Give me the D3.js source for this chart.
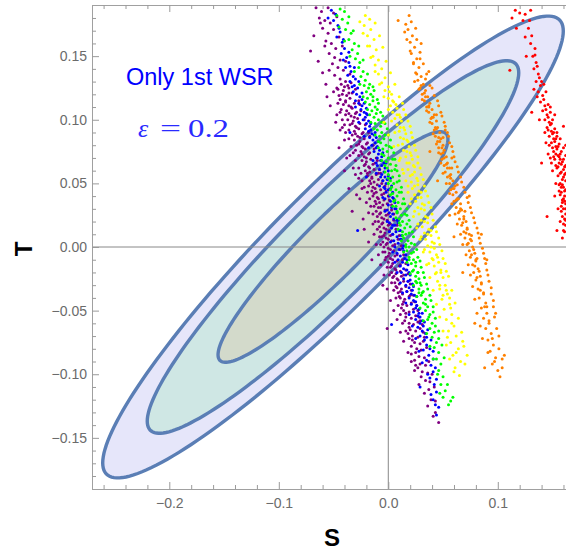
<!DOCTYPE html>
<html>
<head>
<meta charset="utf-8">
<script src="https://cdn.jsdelivr.net/npm/d3@7"></script>
<style>
  body { margin: 0; background: #fff; }
  svg { display: block; }
  .tick text { font-family: "Liberation Sans", Arial, sans-serif; font-size: 14px; fill: #6b6b6b; }
  .tick line { stroke: #9a9a9a; }
  .domain { display: none; }
</style>
</head>
<body>
<svg id="chart" width="566" height="553"></svg>
<script>
// ---- data ----
var xTicks = [-0.2, -0.1, 0.0, 0.1];
var yTicks = [-0.15, -0.10, -0.05, 0.00, 0.05, 0.10, 0.15];

// confidence ellipses: centre, sigmas, correlation, 68/95/99 % radii
var ellCenter = [-0.0505, 0.0];
var ellSigma = [0.0693, 0.0598];
var ellRho = 0.935;
var ellLevels = [3.035, 2.448, 1.515];
var ellFills = ["#e6e6fa", "#cfe7e4", "#d3dacb"];

var purplePts = [
[-.066,.188],[-.061,.185],[-.055,.188],[-.05,.184],[-.063,.18],[-.058,.178],[-.053,.176],[-.047,.181],[-.06,.172],[-.055,.168],[-.05,.171],[-.045,.165],[-.057,.162],[-.052,.16],[-.048,.156],[-.071,.154],[-.054,.152],[-.049,.149],[-.044,.147],[-.051,.144],[-.046,.141],[-.041,.139],[-.06,.137],[-.049,.135],[-.044,.132],[-.039,.13],
[-.043,.128],[-.037,.127],[-.034,.129],[-.046,.124],[-.041,.123],[-.036,.125],[-.042,.12],[-.038,.119],[-.033,.121],[-.056,.118],
[-.044,.116],[-.039,.115],[-.035,.117],[-.041,.112],[-.036,.111],[-.031,.113],[-.043,.108],[-.038,.107],[-.033,.109],[-.029,.106],
[-.039,.104],[-.034,.103],[-.03,.105],[-.037,.1],[-.032,.099],[-.028,.101],[-.048,.098],[-.035,.096],[-.03,.095],[-.026,.097],[-.042,.094],
[-.036,.092],[-.031,.091],[-.027,.093],[-.023,.09],[-.033,.088],[-.028,.087],[-.024,.089],[-.031,.084],[-.026,.083],[-.022,.085],[-.019,.082],
[-.029,.08],[-.024,.079],[-.02,.081],[-.03,.076],[-.025,.075],[-.021,.077],[-.017,.074],[-.027,.072],[-.022,.071],[-.018,.073],[-.038,.07],
[-.024,.068],[-.02,.067],[-.016,.069],[-.012,.066],[-.022,.064],[-.018,.063],[-.014,.065],[-.021,.06],[-.017,.059],[-.013,.061],[-.009,.058],[-.03,.057],
[-.019,.056],[-.015,.055],[-.011,.057],[-.017,.052],[-.013,.051],[-.009,.053],[-.006,.05],[-.018,.048],[-.014,.047],[-.01,.049],[-.036,.046],
[-.015,.044],[-.011,.043],[-.007,.045],[-.004,.042],[-.014,.04],[-.01,.039],[-.006,.041],[-.012,.036],[-.008,.035],[-.004,.037],[-.001,.034],[-.026,.038],
[-.013,.032],[-.009,.031],[-.005,.033],[-.011,.028],[-.007,.027],[-.003,.029],[0,.026],[-.033,.028],[-.01,.024],[-.006,.023],[-.002,.025],
[-.009,.02],[-.005,.019],[-.001,.021],[.002,.018],[-.008,.016],[-.004,.015],[0,.017],[-.022,.014],[-.007,.012],[-.003,.011],[.001,.013],[.004,.01],
[-.006,.008],[-.002,.007],[.002,.009],[-.005,.004],[-.001,.003],[.003,.005],[.006,.002],[-.018,.004],[-.004,0],[0,-.001],[.004,.001],
[-.003,-.004],[.001,-.005],[.005,-.003],[.008,-.006],[-.002,-.008],[.002,-.009],[.006,-.007],[0,-.012],[.004,-.013],[.008,-.011],[.011,-.014],[-.015,-.01],
[.002,-.016],[.006,-.017],[.01,-.015],[.003,-.02],[.007,-.021],[.011,-.019],[.014,-.022],[.004,-.024],[.008,-.025],[.012,-.023],
[.006,-.028],[.01,-.029],[.014,-.027],[-.005,-.03],[.008,-.032],[.012,-.033],[.016,-.031],[.009,-.036],[.013,-.037],[.017,-.035],[.02,-.038],
[.011,-.04],[.015,-.041],[.019,-.039],[.013,-.045],[.017,-.046],[.021,-.044],[.014,-.05],[.019,-.051],[.023,-.049],[.016,-.055],[.021,-.056],[.025,-.054],
[.019,-.06],[.023,-.061],[.027,-.059],[-.001,-.064],[.02,-.065],[.025,-.066],[.029,-.064],[.022,-.07],[.027,-.071],[.024,-.075],[.029,-.076],[.032,-.074],
[.026,-.08],[.03,-.081],[.028,-.086],[.033,-.087],[.029,-.092],[.034,-.093],[.031,-.098],[.036,-.099],[.034,-.105],[.038,-.106],[.037,-.112],
[.039,-.12],[.043,-.121],[.043,-.13],[.046,-.138],
[-.062,.176],[-.068,.166],[-.058,.158],[-.064,.146],[-.054,.139],[-.057,.128],[-.05,.122],[-.053,.111],[-.047,.104],[-.044,.092],[-.04,.084],[-.045,.078],[-.035,.072],[-.032,.062],[-.04,.06],
[-.027,.054],[-.024,.046],[-.029,.041],[-.02,.035],[-.018,.027],[-.023,.022],[-.014,.018],[-.013,.01],[-.011,.002],[-.009,-.006],[-.007,-.014],[-.004,-.022],[-.001,-.033],[.002,-.042],
[.005,-.05],[.008,-.057],[.011,-.067],[.014,-.074],[.018,-.083],[.021,-.09],[.024,-.097],[.028,-.108],
[-.042,.158],[-.039,.146],[-.035,.136],[-.03,.124],[-.026,.112],[-.022,.1],[-.018,.09],[-.014,.08],[-.011,.07],[-.008,.061],[-.005,.052],[-.002,.044],[.001,.037],[.003,.029],[.005,.021],
[.007,.014],[.009,.006],[.011,-.002],[.013,-.01],[.016,-.018],[.018,-.027],[.021,-.034],[.024,-.043],[.027,-.05],[.029,-.058],[.032,-.067],[.035,-.079],[.037,-.09],[.04,-.1],[.042,-.11],
[-.04,.126],[-.036,.121],[-.039,.114],[-.034,.11],[-.036,.105],[-.031,.102],[-.033,.097],[-.029,.094],[-.03,.089],[-.026,.086],[-.027,.081],[-.023,.078],[-.024,.073],[-.02,.07],[-.021,.065],
[-.017,.062],[-.019,.058],[-.015,.054],[-.016,.05],[-.012,.046],[-.013,.042],[-.009,.038],[-.011,.034],[-.007,.031],[-.008,.026],[-.004,.022],[-.006,.018],[-.002,.014],[-.004,.009],[0,.006],
[-.002,.002],[.002,-.002],[0,-.007],[.004,-.01],[.003,-.015],[.007,-.018],[.005,-.023],[.009,-.026],[.007,-.031],[.011,-.035],[.01,-.039],[.014,-.043],[.012,-.048],[.016,-.052],[.015,-.058],
[.019,-.063],[.018,-.068],[.022,-.073],[.021,-.078],[.025,-.083],[.024,-.089],[.027,-.095],[.03,-.102],[.033,-.115],[.036,-.125],[.041,-.133],
[-.047,.125],[-.045,.119],[-.046,.113],[-.044,.106],[-.042,.1],[-.04,.096],[-.039,.09],[-.036,.085],[-.034,.079],[-.032,.074],[-.03,.068],[-.027,.062],[-.025,.058],[-.024,.052],[-.022,.047],
[-.019,.043],[-.017,.038],[-.016,.032],[-.014,.026],[-.012,.02],[-.01,.014],[-.008,.008],[-.007,.002],[-.005,-.004],[-.003,-.01],[-.001,-.016],[.001,-.022],[.003,-.028],[.005,-.034],
[.007,-.04],[.009,-.046],[.011,-.053],[.013,-.06],[.016,-.066],[.019,-.072],[.021,-.084],[.025,-.093],
[-.027,.115],[-.025,.107],[-.021,.096],[-.017,.087],[-.013,.077],[-.01,.068],[-.007,.058],[-.003,.048],[0,.04],[.003,.033],[.005,.026],[.008,.017],[.01,.009],[.012,.001],[.014,-.006],
[.016,-.013],[.018,-.021],[.02,-.029],[.023,-.038],[.026,-.046],[.028,-.055],[.031,-.061],[.033,-.071]
];

var bluePts = [
[-.052,.186],[-.048,.183],[-.05,.178],[-.046,.174],[-.044,.169],[-.047,.165],[-.042,.161],[-.04,.156],[-.043,.152],[-.038,.149],[-.036,.145],[-.039,.141],[-.034,.138],[-.032,.134],[-.035,.13],
[-.031,.127],[-.028,.125],[-.032,.122],[-.029,.12],[-.026,.118],[-.03,.115],[-.027,.113],[-.024,.111],[-.025,.108],[-.022,.106],[-.026,.104],[-.021,.102],[-.023,.1],[-.02,.097],[-.017,.095],
[-.021,.093],[-.018,.091],[-.015,.089],[-.017,.086],[-.014,.084],[-.012,.082],[-.015,.08],[-.011,.078],[-.013,.075],[-.009,.073],[-.01,.07],[-.007,.068],[-.011,.066],[-.006,.064],[-.008,.061],
[-.004,.059],[-.006,.057],[-.003,.055],[-.005,.052],[-.002,.05],[-.004,.047],[0,.045],[-.002,.043],[.001,.04],[-.003,.038],[.002,.036],[0,.033],[.003,.031],[-.001,.029],[.004,.026],
[.002,.024],[.005,.022],[.001,.019],[.006,.017],[.003,.015],[.007,.012],[.004,.01],[.008,.008],[.005,.005],[.009,.003],[.006,0],[.01,-.002],[.008,-.005],[.011,-.007],[.009,-.01],
[.013,-.012],[.011,-.015],[.014,-.017],[.012,-.02],[.016,-.022],[.014,-.025],[.018,-.027],[.016,-.03],[.019,-.032],[.017,-.035],[.021,-.037],[.019,-.04],[.023,-.042],[.021,-.045],
[.025,-.048],[.023,-.051],[.027,-.054],[.025,-.057],[.029,-.06],[.027,-.063],[.031,-.066],[.029,-.07],[.033,-.073],[.035,-.077],[.032,-.081],[.037,-.085],[.035,-.089],[.039,-.093],
[.041,-.098],[.038,-.103],[.042,-.108],[.044,-.114],[.041,-.12],[.046,-.126],[.044,-.132],
[-.028,.013],[.003,-.061],[-.02,.055],[-.035,.09],[.029,-.11],
[-.024,.121],[-.02,.109],[-.018,.099],[-.013,.088],[-.01,.079],[-.006,.071],[-.003,.062],[-.001,.053],[.002,.046],[.004,.039],[.006,.03],[.008,.021],
[.01,.013],[.011,.006],[.013,-.001],[.015,-.009],[.017,-.018],[.02,-.026],[.022,-.034],[.025,-.043],[.028,-.052],[.031,-.058],[.034,-.068],
[-.055,.18],[-.045,.172],[-.041,.163],[-.036,.153],[-.041,.147],[-.031,.141],[-.037,.135],[-.027,.13],[-.033,.126],[-.024,.116],[-.03,.11],[-.02,.105],[-.027,.098],[-.016,.092],[-.022,.087],
[-.011,.086],[-.018,.078],[-.008,.076],[-.014,.068],[-.004,.066],[-.011,.058],[0,.056],[-.008,.048],[.003,.048],[-.005,.039],[.005,.038],[-.003,.028],[.007,.03],[-.001,.02],[.009,.021],
[.001,.012],[.011,.013],[.002,.004],[.012,.006],[.004,-.004],[.014,-.003],[.006,-.012],[.017,-.01],[.008,-.02],[.019,-.02],[.011,-.028],[.022,-.029],[.013,-.036],[.024,-.038],[.016,-.044],
[.026,-.046],[.019,-.053],[.029,-.055],[.022,-.062],[.032,-.062],[.025,-.072],[.035,-.071],[.028,-.082],[.038,-.08],[.031,-.091],[.041,-.088],[.036,-.1],[.044,-.104],[.039,-.116],[.043,-.124],
[-.035,.142],[-.03,.132],[-.022,.113],[-.019,.104],[-.016,.097],[-.012,.09],[-.009,.083],[-.005,.074],[-.002,.066],[0,.06],[.002,.054],[.004,.043],[.006,.035],[.008,.027],[.009,.019],
[.012,.009],[.014,.001],[.016,-.006],[.018,-.014],[.02,-.022],[.023,-.031],[.026,-.039],[.028,-.049],[.031,-.052],[.033,-.059],[.036,-.065],[.039,-.073],[.041,-.082],[.043,-.095],
[-.007,.055],[-.01,.064],[-.003,.046],[.001,.027],[.004,.017]
];

var greenPts = [
[-.044,.187],[-.04,.185],[-.042,.179],[-.037,.176],[-.039,.171],[-.034,.168],[-.036,.163],[-.031,.16],[-.033,.155],[-.028,.152],[-.03,.148],[-.026,.145],[-.027,.141],[-.023,.138],[-.025,.134],[-.021,.131],[-.022,.127],[-.018,.125],
[-.02,.122],[-.016,.12],[-.019,.117],[-.014,.115],[-.017,.112],[-.012,.11],[-.015,.107],[-.011,.105],[-.013,.102],[-.009,.1],[-.012,.097],[-.007,.095],[-.01,.092],[-.006,.09],[-.008,.087],
[-.004,.085],[-.007,.082],[-.002,.08],[-.005,.077],[-.001,.075],[-.004,.072],[0,.07],[-.002,.067],[.002,.065],[-.001,.062],[.003,.06],[0,.057],[.004,.055],[.002,.052],[.005,.05],[.003,.047],
[.007,.045],[.004,.042],[.008,.04],[.006,.037],[.009,.035],[.007,.032],[.011,.03],[.008,.027],[.012,.025],[.01,.022],[.013,.02],[.011,.017],[.015,.015],[.013,.012],[.016,.01],[.014,.007],
[.018,.005],[.016,.002],[.019,0],[.017,-.003],[.021,-.005],[.019,-.008],[.023,-.01],[.021,-.013],[.025,-.015],[.023,-.018],[.027,-.02],[.025,-.023],[.028,-.025],[.026,-.028],[.03,-.03],
[.028,-.033],[.032,-.035],[.03,-.038],[.034,-.041],[.032,-.044],[.036,-.047],[.034,-.05],[.038,-.053],[.036,-.057],[.04,-.06],[.038,-.064],[.042,-.067],[.04,-.071],[.044,-.075],[.042,-.079],
[.046,-.083],[.044,-.088],[.048,-.092],[.046,-.097],[.05,-.102],[.048,-.108],[.052,-.113],[.05,-.118],[.055,-.124],[.059,-.118],
[-.014,.118],[-.01,.108],[-.006,.098],[-.003,.088],[.001,.079],[.004,.069],[.006,.061],[.008,.051],[.01,.043],[.013,.034],[.015,.026],[.017,.018],[.019,.011],[.021,.003],[.023,-.004],
[.025,-.012],[.027,-.02],[.029,-.028],[.031,-.036],[.034,-.045],[.037,-.055],
[-.047,.182],[-.036,.181],[-.045,.173],[-.032,.17],[-.04,.162],[-.027,.158],[-.035,.15],[-.023,.147],[-.031,.138],[-.019,.136],[-.026,.128],[-.014,.126],[-.023,.118],[-.01,.116],[-.019,.108],
[-.007,.106],[-.016,.098],[-.003,.097],[-.012,.088],[0,.088],[-.009,.078],[.003,.078],[-.006,.068],[.006,.069],[-.003,.059],[.008,.06],[0,.05],[.01,.052],[.002,.041],[.012,.043],
[.004,.032],[.015,.034],[.007,.023],[.017,.025],[.009,.014],[.02,.016],[.012,.005],[.023,.008],[.014,-.004],[.026,-.002],[.017,-.012],[.029,-.011],[.02,-.021],[.032,-.02],[.023,-.03],
[.035,-.029],[.026,-.039],[.038,-.038],[.029,-.048],[.041,-.047],[.032,-.058],[.043,-.056],[.035,-.068],[.046,-.066],[.038,-.078],[.049,-.077],[.041,-.088],[.051,-.087],[.045,-.1],[.054,-.108],[.047,-.115],[.057,-.121],
[-.017,.128],[-.013,.123],[-.009,.113],[-.005,.103],[-.001,.093],[.002,.084],[.005,.074],[.007,.064],[.01,.056],[.012,.047],[.014,.038],[.017,.03],[.019,.021],[.022,.012],[.024,.002],
[.027,-.008],[.03,-.016],[.033,-.024],[.036,-.033],[.039,-.042],[.041,-.051],[.043,-.062],[.046,-.072],[-.021,.114],[-.017,.104],[-.013,.093],[-.009,.083],[-.006,.073],[-.003,.064],[0,.054],
[.002,.045],[.005,.036],[.008,.028],[.01,.019],[.013,.009],[.016,0],[.019,-.01],[.022,-.019],[.025,-.027],[.028,-.036]
];

var yellowPts = [
[-.021,.182],[-.017,.179],[-.022,.174],[-.016,.171],[-.019,.166],[-.013,.163],[-.017,.158],[-.011,.155],[-.014,.15],[-.009,.147],[-.012,.143],[-.006,.14],[-.009,.136],[-.003,.133],[-.006,.129],
[0,.126],[-.003,.123],[.003,.12],[0,.117],[.005,.114],[.002,.111],[.008,.109],[.004,.106],[.01,.104],[.006,.101],[.012,.099],[.008,.096],[.014,.094],[.01,.091],[.016,.089],[.011,.086],
[.017,.084],[.013,.081],[.019,.079],[.014,.076],[.02,.074],[.016,.071],[.022,.069],[.017,.066],[.023,.064],[.018,.061],[.024,.059],[.02,.056],[.026,.054],[.021,.051],[.027,.049],[.022,.046],
[.028,.044],[.024,.041],[.03,.039],[.025,.036],[.031,.034],[.027,.031],[.033,.029],[.028,.026],[.034,.024],[.03,.021],[.036,.019],[.031,.016],[.037,.014],[.033,.011],[.039,.009],[.034,.006],
[.04,.004],[.036,.001],[.042,-.001],[.038,-.004],[.044,-.006],[.04,-.009],[.046,-.012],[.042,-.015],[.048,-.018],[.043,-.021],[.05,-.024],[.045,-.027],[.052,-.03],[.047,-.033],[.054,-.037],
[.049,-.041],[.056,-.045],[.051,-.049],[.058,-.053],[.053,-.057],[.06,-.062],[.055,-.066],[.062,-.07],[.057,-.075],[.064,-.08],[.059,-.085],[.066,-.09],[.061,-.095],[.065,-.101],
[.001,.122],[.007,.112],[.011,.102],[.015,.092],[.018,.083],[.021,.072],[.024,.063],[.027,.052],[.03,.043],[.033,.033],[.036,.023],[.039,.013],[.042,.003],[.045,-.008],[.048,-.02],[.053,-.034],[.057,-.048],
[-.004,.098],[0,.088],[.005,.079],[.01,.068],[.014,.058],[.018,.048],[.021,.038],[.024,.028],[.027,.018],[.03,.008],[.033,-.002],[.037,-.013],
[-.026,.177],[-.012,.176],[-.023,.168],[-.008,.166],[-.019,.158],[-.005,.157],[-.016,.149],[-.002,.146],[-.012,.138],[.002,.137],[-.008,.128],[.006,.128],[-.004,.118],[.01,.118],[0,.108],
[.014,.108],[.003,.099],[.018,.099],[.006,.09],[.021,.09],[.009,.08],[.024,.08],[.011,.07],[.027,.071],[.013,.061],[.029,.062],[.016,.052],[.032,.053],[.018,.043],[.034,.044],
[.02,.034],[.037,.035],[.023,.024],[.04,.026],[.026,.015],[.043,.016],[.029,.006],[.046,.007],[.032,-.004],[.049,-.003],[.035,-.014],[.052,-.013],[.038,-.024],[.055,-.023],[.041,-.034],
[.058,-.034],[.044,-.045],[.061,-.044],[.047,-.055],[.064,-.056],[.05,-.066],[.067,-.067],[.053,-.077],[.069,-.078],[.056,-.088],[.07,-.092],[.06,-.098],
[.004,.115],[.013,.113],[.008,.104],[.016,.104],[.011,.094],[.02,.095],[.014,.085],[.022,.086],[.017,.075],[.025,.076],[.019,.066],[.027,.066],[.022,.057],[.03,.057],[.024,.048],
[.033,.048],[.027,.039],[.036,.04],[.03,.03],[.039,.031],[.033,.02],[.041,.021],[.036,.01],[.044,.012],[.039,0],[.047,.002],[.041,-.01],[.05,-.009],[.044,-.02],[.053,-.019],
[.047,-.03],[.056,-.04],[.05,-.038],[.058,-.06],[.054,-.071],[.062,-.083],[.068,-.074],[.072,-.085]
];

var orangePts = [
[.019,.182],[.021,.177],[.018,.171],[.022,.166],[.02,.161],[.024,.157],[.021,.152],[.026,.148],[.023,.144],[.028,.141],[.025,.137],[.03,.134],[.027,.131],[.032,.128],[.029,.125],
[.034,.123],[.031,.12],[.036,.118],[.033,.115],[.038,.113],[.035,.11],[.04,.108],[.037,.106],[.042,.104],[.039,.101],[.044,.099],[.04,.097],[.045,.094],[.042,.092],[.047,.09],[.043,.087],
[.048,.085],[.045,.083],[.05,.08],[.046,.078],[.051,.076],[.048,.073],[.053,.071],[.049,.069],[.054,.066],[.051,.064],[.056,.062],[.052,.059],[.057,.057],[.054,.055],[.059,.052],[.056,.05],
[.061,.048],[.057,.045],[.062,.043],[.059,.041],[.064,.038],[.06,.036],[.066,.034],[.062,.031],[.067,.029],[.064,.027],[.069,.024],[.065,.022],[.071,.02],[.067,.017],[.072,.015],[.069,.012],
[.074,.01],[.07,.007],[.076,.005],[.072,.002],[.077,0],[.074,-.003],[.079,-.005],[.075,-.008],[.08,-.011],[.077,-.014],[.082,-.017],[.078,-.02],[.084,-.023],[.08,-.026],[.085,-.029],
[.082,-.033],[.087,-.036],[.083,-.04],[.089,-.044],[.085,-.048],[.09,-.052],[.087,-.056],[.092,-.06],[.089,-.064],[.094,-.068],[.091,-.073],[.096,-.077],[.093,-.082],[.098,-.087],[.095,-.092],[.1,-.097],[.102,-.102],
[.033,.121],[.037,.111],[.041,.102],[.044,.093],[.047,.083],[.05,.074],[.053,.065],[.056,.056],[.059,.046],[.062,.037],[.065,.028],[.068,.019],[.071,.011],[.073,.003],[.076,-.006],[.079,-.015],[.081,-.024],[.084,-.034],[.088,-.047],
[.009,.178],[.03,.16],[.024,.13],[.052,.092],[.038,.075],[.058,.07],[.045,.052],[.074,.04],[.056,.025],[.085,.01],[.06,.008],[.09,-.01],[.068,-.02],[.097,-.055],[.079,-.06],[.106,-.085],[.088,-.095],
[.016,.175],[.025,.172],[.017,.163],[.026,.163],[.02,.154],[.029,.153],[.023,.145],[.032,.144],[.026,.136],[.035,.136],[.03,.127],[.038,.127],[.034,.118],[.042,.119],[.037,.11],
[.046,.111],[.04,.102],[.049,.103],[.043,.094],[.052,.095],[.046,.086],[.055,.087],[.049,.078],[.058,.079],[.051,.07],[.06,.071],[.054,.062],[.063,.063],[.057,.054],[.066,.055],
[.06,.046],[.069,.047],[.063,.038],[.072,.039],[.066,.03],[.075,.031],[.069,.022],[.078,.023],[.072,.014],[.081,.015],[.075,.006],[.083,.007],[.078,-.002],[.086,-.001],[.08,-.01],
[.088,-.009],[.083,-.019],[.09,-.018],[.085,-.028],[.092,-.027],[.087,-.037],[.094,-.037],[.09,-.047],[.096,-.047],[.092,-.058],[.099,-.064],[.095,-.072],[.101,-.08],[.097,-.09],[.104,-.095],
[.028,.124],[.04,.125],[.031,.116],[.045,.115],[.035,.107],[.048,.106],[.038,.098],[.051,.098],[.041,.089],[.054,.09],[.044,.081],[.056,.082],[.046,.074],[.059,.075],[.048,.066],
[.061,.067],[.05,.058],[.064,.059],[.053,.05],[.067,.051],[.056,.042],[.07,.043],[.058,.034],[.073,.035],[.061,.026],[.076,.027],[.063,.018],[.079,.019],[.066,.01],[.082,.011],
[.068,.002],[.084,.003],[.071,-.006],[.087,-.005],[.073,-.014],[.089,-.013],[.075,-.022],[.091,-.022],[.077,-.031],[.094,-.032],[.079,-.041],[.096,-.042],[.081,-.052],[.098,-.052],[.084,-.062],
[.101,-.07],[.086,-.072],[.104,-.088],[.091,-.083],[.037,.138],[.029,.148],[.015,.169],[.034,.132],[.063,.049],[.07,.028],[.076,.009],[.05,.086],[.044,.104],[.058,.062],[.081,-.009]
];

var redPts = [
[.116,.186],[.12,.184],[.13,.186],[.113,.18],[.123,.178],[.128,.172],[.131,.166],[.13,.16],[.134,.156],[.132,.15],[.135,.145],[.111,.139],[.133,.14],[.137,.136],[.135,.13],[.139,.127],
[.137,.122],[.141,.119],[.139,.114],[.131,.106],[.143,.111],[.141,.107],[.145,.104],[.143,.1],[.147,.098],[.145,.094],[.149,.091],[.147,.087],[.151,.085],[.149,.082],[.153,.079],[.151,.075],
[.155,.072],[.152,.069],[.156,.066],[.154,.062],[.158,.059],[.155,.056],[.159,.053],[.157,.05],[.16,.047],[.158,.043],[.161,.04],[.159,.037],[.162,.034],[.16,.03],[.162,.026],[.161,.022],
[.162,.017],[.161,.012],[.159,.007],
[.146,.092],[.15,.078],[.153,.064],[.156,.049],[.159,.035],[.148,.07],[.14,.066],[.145,.024],[.154,.013],[.152,.04],[.144,.082],[.138,.1],[.157,.02],[.162,.064],[.162,.08],[.16,.095],
[.142,.116],[.146,.112],[.144,.108],[.148,.106],[.146,.102],[.15,.1],[.148,.096],[.152,.093],[.15,.089],[.154,.087],[.152,.083],[.156,.081],[.154,.077],[.158,.075],[.156,.071],
[.16,.069],[.158,.065],[.161,.063],[.157,.058],[.16,.055],[.162,.052],[.158,.047],[.161,.044],[.157,.041],[.16,.038],[.162,.03],[.158,.028],[.16,.018],[.155,.03],[.153,.05],
[.15,.06],[.147,.08],[.136,.118],[.126,.15],[.125,.165],[.133,.124],[.14,.13],[.117,.172],
[.149,.097],[.151,.09],[.153,.085],[.155,.079],[.157,.073],[.159,.067],[.16,.061],[.161,.057],[.159,.049],[.162,.045],[.161,.036],[.158,.032],[.162,.021],[.16,.013],[.155,.063],
[.157,.069],[.153,.073],[.151,.071],[.154,.09],[.157,.085],[.16,.078],[.162,.072],[.162,.058],[.156,.044],[.159,.024],[.152,.104],[.148,.11],[.144,.122],[.142,.128],[.138,.133],
[.136,.142],[.134,.151],[.129,.178],[.125,.183],[.149,.066],[.146,.073],[.143,.09]
];

var series = [
    { name: "purple", color: "#800080", pts: purplePts },
    { name: "blue",   color: "#0000ff", pts: bluePts },
    { name: "green",  color: "#00ff00", pts: greenPts },
    { name: "yellow", color: "#ffff00", pts: yellowPts },
    { name: "orange", color: "#ff8000", pts: orangePts },
    { name: "red",    color: "#ff0000", pts: redPts }
];

function drawChart() {
    var svg = d3.select("#chart");
    var mLeft = 92, mRight = 566, mTop = 5, mBottom = 489;

    var x = d3.scaleLinear().domain([-0.2706, 0.1623]).range([mLeft, mRight]);
    var y = d3.scaleLinear().domain([-0.1902, 0.1902]).range([mBottom, mTop]);

    svg.append("defs").append("clipPath").attr("id", "plotclip")
        .append("rect")
        .attr("x", mLeft).attr("y", mTop)
        .attr("width", mRight - mLeft).attr("height", mBottom - mTop);

    var plot = svg.append("g").attr("clip-path", "url(#plotclip)");

    // ellipses
    function ellipsePoints(k) {
        var s = Math.sqrt(1 - ellRho * ellRho);
        return d3.range(0, 361, 2).map(function(deg) {
            var t = deg * Math.PI / 180;
            return [
                ellCenter[0] + k * ellSigma[0] * Math.cos(t),
                ellCenter[1] + k * ellSigma[1] * (ellRho * Math.cos(t) + s * Math.sin(t))
            ];
        });
    }

    var ellLine = d3.line()
        .x(function(d) { return x(d[0]); })
        .y(function(d) { return y(d[1]); })
        .curve(d3.curveLinearClosed);

    ellLevels.forEach(function(k, i) {
        plot.append("path")
            .attr("d", ellLine(ellipsePoints(k)))
            .attr("fill", ellFills[i])
            .attr("stroke", "none");
    });
    ellLevels.forEach(function(k) {
        plot.append("path")
            .attr("d", ellLine(ellipsePoints(k)))
            .attr("fill", "none")
            .attr("stroke", "#5a7eb5")
            .attr("stroke-width", 3.4);
    });

    // axes through origin
    plot.append("line")
        .attr("x1", mLeft).attr("x2", mRight)
        .attr("y1", y(0)).attr("y2", y(0))
        .attr("stroke", "#888").attr("stroke-width", 1);
    plot.append("line")
        .attr("x1", x(0)).attr("x2", x(0))
        .attr("y1", mTop).attr("y2", mBottom)
        .attr("stroke", "#888").attr("stroke-width", 1);

    // points
    series.forEach(function(sr) {
        plot.append("g")
            .selectAll("circle")
            .data(sr.pts)
            .enter()
            .append("circle")
            .attr("cx", function(d) { return x(d[0]); })
            .attr("cy", function(d) { return y(d[1]); })
            .attr("r", 1.5)
            .attr("fill", sr.color);
    });

    // frame
    svg.append("rect")
        .attr("x", mLeft + 0.5).attr("y", mTop + 0.5)
        .attr("width", mRight - mLeft + 20).attr("height", mBottom - mTop)
        .attr("fill", "none")
        .attr("stroke", "#a0a0a0")
        .attr("stroke-width", 1);

    // ticks
    var xMinor = d3.range(-0.26, 0.17, 0.02).filter(function(v) {
        return Math.abs(Math.round(v * 10) - v * 10) > 1e-6;
    });
    var yMinor = d3.range(-0.18, 0.19, 0.01).filter(function(v) {
        return Math.abs(Math.round(v * 20) - v * 20) > 1e-6;
    });

    svg.append("g").attr("transform", "translate(0," + mBottom + ")")
        .call(d3.axisBottom(x).tickValues(xTicks).tickSize(-7).tickPadding(9).tickFormat(d3.format(".1f")));
    svg.append("g").attr("transform", "translate(0," + mBottom + ")")
        .call(d3.axisBottom(x).tickValues(xMinor).tickSize(-4).tickFormat(""));
    svg.append("g").attr("transform", "translate(0," + mTop + ")")
        .call(d3.axisTop(x).tickValues(xTicks).tickSize(-7).tickFormat(""));
    svg.append("g").attr("transform", "translate(0," + mTop + ")")
        .call(d3.axisTop(x).tickValues(xMinor).tickSize(-4).tickFormat(""));

    svg.append("g").attr("transform", "translate(" + mLeft + ",0)")
        .call(d3.axisLeft(y).tickValues(yTicks).tickSize(-7).tickPadding(5).tickFormat(d3.format(".2f")));
    svg.append("g").attr("transform", "translate(" + mLeft + ",0)")
        .call(d3.axisLeft(y).tickValues(yMinor).tickSize(-4).tickFormat(""));

    // axis labels
    svg.append("text")
        .attr("x", 332).attr("y", 546)
        .attr("text-anchor", "middle")
        .style("font-family", "'Liberation Sans', Arial, sans-serif")
        .style("font-size", "24px").style("font-weight", "bold")
        .text("S");
    svg.append("text")
        .attr("transform", "translate(32,249) rotate(-90)")
        .attr("text-anchor", "middle")
        .style("font-family", "'Liberation Sans', Arial, sans-serif")
        .style("font-size", "24px").style("font-weight", "bold")
        .text("T");

    // annotations
    svg.append("text")
        .attr("x", 126).attr("y", 85)
        .style("font-family", "'Liberation Sans', Arial, sans-serif")
        .style("font-size", "23.5px")
        .attr("fill", "#0000ff")
        .text("Only 1st WSR");

    var eps = svg.append("g")
        .style("font-family", "'Liberation Serif', 'Times New Roman', serif")
        .style("font-size", "26px")
        .attr("fill", "#2a2aff");
    eps.append("text").attr("x", 138).attr("y", 137).style("font-style", "italic").text("ε");
    eps.append("text").attr("x", 160).attr("y", 137)
        .attr("textLength", 21).attr("lengthAdjust", "spacingAndGlyphs").text("=");
    eps.append("text").attr("x", 188).attr("y", 137)
        .attr("textLength", 41).attr("lengthAdjust", "spacingAndGlyphs").text("0.2");
}

drawChart();
</script>
</body>
</html>
